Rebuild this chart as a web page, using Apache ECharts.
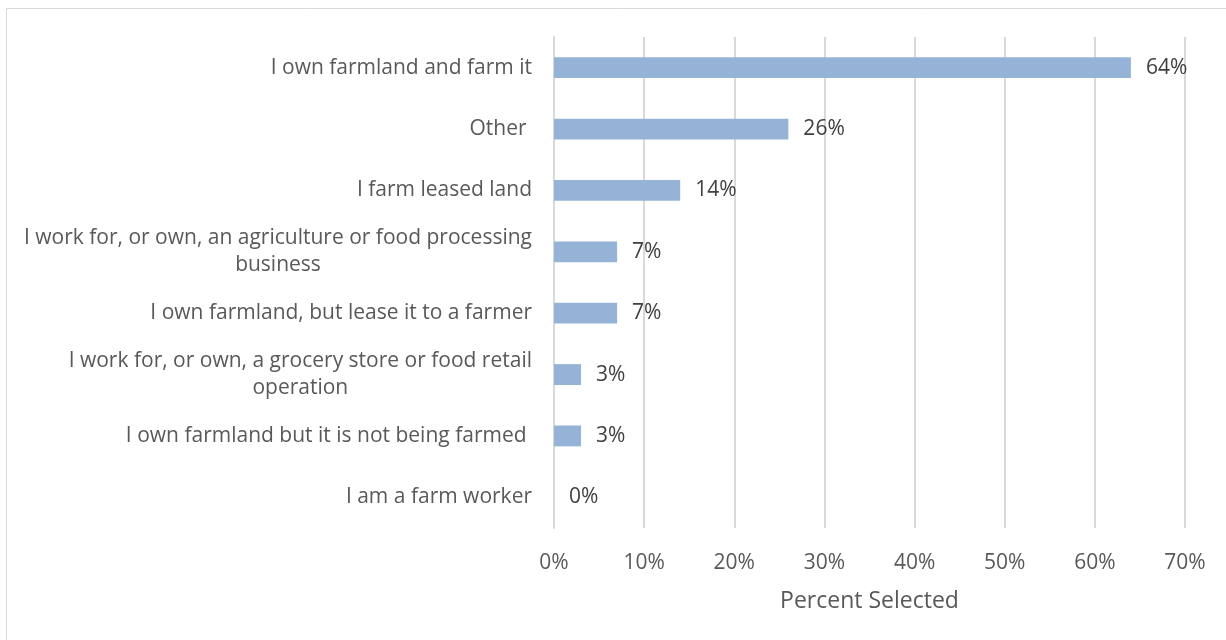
<!DOCTYPE html>
<html>
<head>
<meta charset="utf-8">
<script src="https://cdn.jsdelivr.net/npm/echarts@6/dist/echarts.min.js"></script>
<style>
  html, body { margin: 0; padding: 0; background: #ffffff; }
  #chart { width: 1226px; height: 640px; }
</style>
</head>
<body>
<div id="chart"></div>
<script>
// Survey answers, listed top to bottom as shown
const categories = [
  'I own farmland and farm it',
  'Other ',
  'I farm leased land',
  'I work for, or own, an agriculture or food processing business',
  'I own farmland, but lease it to a farmer',
  'I work for, or own, a grocery store or food retail operation',
  'I own farmland but it is not being farmed ',
  'I am a farm worker'
];
const percentSelected = [64, 26, 14, 7, 7, 3, 3, 0];
const axisTicks = [0, 10, 20, 30, 40, 50, 60, 70];
const axisTitle = 'Percent Selected';

const FONT = '"Open Sans", sans-serif';

// Break long answers onto two lines, each line centred under the other
function wrapLabel(text) {
  const limit = 55;
  let lines = [text];
  if (text.length > limit) {
    const cut = text.lastIndexOf(' ', limit);
    lines = [text.slice(0, cut), text.slice(cut + 1)];
  }
  return lines.map(function (l) { return '{c|' + l + '}'; }).join('\n');
}

const chart = echarts.init(document.getElementById('chart'));
chart.setOption({
  animation: false,
  backgroundColor: '#ffffff',
  graphic: [{
    type: 'rect',
    silent: true,
    shape: { x: 6.5, y: 8.5, width: 1240, height: 700 },
    style: { fill: 'none', stroke: '#d9d9d9', lineWidth: 1 }
  }],
  grid: { left: 554, right: 41, top: 37, bottom: 112, containLabel: false },
  xAxis: {
    type: 'value',
    min: axisTicks[0],
    max: axisTicks[axisTicks.length - 1],
    interval: axisTicks[1] - axisTicks[0],
    name: axisTitle,
    nameLocation: 'middle',
    nameGap: 62,
    nameTextStyle: { color: '#595959', fontSize: 23, fontFamily: FONT },
    axisLine: { show: false },
    axisTick: { show: false },
    axisLabel: {
      color: '#595959', fontSize: 21, fontFamily: FONT, margin: 25,
      formatter: function (v) { return v + '%'; }
    },
    splitLine: { show: true, lineStyle: { color: '#d9d9d9', width: 2 } }
  },
  yAxis: {
    type: 'category',
    data: categories,
    inverse: true,
    axisLine: { show: true, lineStyle: { color: '#d9d9d9', width: 2 } },
    axisTick: { show: false },
    axisLabel: {
      margin: 22,
      formatter: wrapLabel,
      rich: {
        c: { align: 'center', color: '#595959', fontSize: 21, fontFamily: FONT, lineHeight: 27 }
      }
    }
  },
  series: [{
    type: 'bar',
    data: percentSelected,
    barCategoryGap: '66%',
    itemStyle: { color: '#95b3d7' },
    label: {
      show: true,
      position: 'right',
      distance: 15,
      color: '#404040',
      fontSize: 21,
      fontFamily: FONT,
      formatter: function (p) { return p.value + '%'; }
    }
  }]
});
</script>
</body>
</html>
